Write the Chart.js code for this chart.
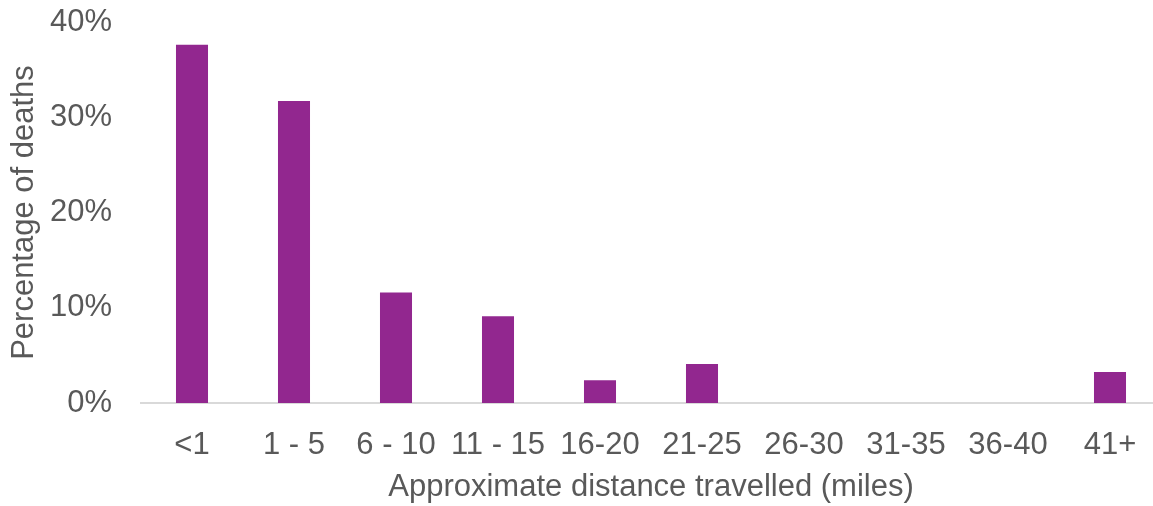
<!DOCTYPE html>
<html>
<head>
<meta charset="utf-8">
<script src="https://cdn.jsdelivr.net/npm/chart.js@4"></script>
<style>
  html,body{margin:0;padding:0;background:#fff;overflow:hidden;}
  #wrap{position:absolute;left:0;top:0;width:1161px;height:506px;}
</style>
</head>
<body>
<div id="wrap"><canvas id="distChart" width="1161" height="506"></canvas></div>
<script>
// categories + values
const distLabels = ['<1','1 - 5','6 - 10','11 - 15','16-20','21-25','26-30','31-35','36-40','41+'];
const deathPct   = [37.6, 31.7, 11.6, 9.1, 2.4, 4.1, 0, 0, 0, 3.25];
const yTicks     = [0, 10, 20, 30, 40];

const GREY = '#595959';
const FONT = 'Liberation Sans, Arial, sans-serif';
const FS = 31;

new Chart(document.getElementById('distChart'), {
  type:'bar',
  data:{
    labels:distLabels,
    datasets:[{
      data:deathPct,
      backgroundColor:'#92278f',
      barPercentage:0.314, categoryPercentage:1
    }]
  },
  options:{
    responsive:false, animation:false,
    layout:{padding:{top:22,left:0,right:0,bottom:0}},
    plugins:{legend:{display:false}, tooltip:{enabled:false}},
    scales:{
      x:{
        grid:{display:false, drawTicks:false},
        border:{display:true, color:'#d9d9d9', width:2},
        ticks:{color:GREY, font:{family:FONT,size:FS}, padding:24, maxRotation:0, autoSkip:false},
        title:{display:true, text:'Approximate distance travelled (miles)', color:GREY,
               font:{family:FONT,size:FS}, padding:{top:2,bottom:0}},
        afterFit(s){ s.height = 506-403; s.paddingLeft = 0; s.paddingRight = 0; }
      },
      y:{
        min:0, max:40,
        afterBuildTicks(s){ s.ticks = yTicks.map(v=>({value:v})); },
        grid:{display:false, drawTicks:false},
        border:{display:false},
        ticks:{color:GREY, font:{family:FONT,size:FS}, padding:29, callback:v=>v+'%'},
        title:{display:true, text:'Percentage of deaths', color:GREY,
               font:{family:FONT,size:FS}, padding:{top:6,bottom:0}},
        afterFit(s){ s.width = 141; s.paddingTop = 0; s.paddingBottom = 0; }
      }
    }
  }
});
</script>
</body>
</html>
